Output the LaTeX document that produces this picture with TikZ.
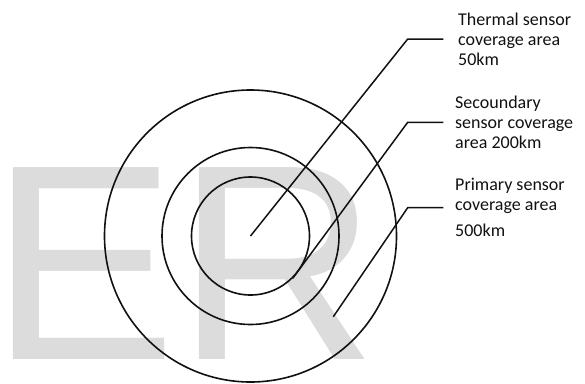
\documentclass[tikz,border=0pt]{standalone}
\usepackage{fontspec}
\setmainfont{Carlito}
\newfontfamily\markfont{Liberation Sans}
\usepackage{tikz}
\usetikzlibrary{positioning,calc}
\definecolor{ink}{HTML}{111111}
\definecolor{watermark}{HTML}{DCDCDC}

\begin{document}
\begin{tikzpicture}[
  x=1pt,y=-1pt,
  ring/.style={draw=ink,circle,line width=1.6pt,inner sep=0pt},
  leader/.style={draw=ink,line width=1.5pt},
  label/.style={anchor=base west,align=left,inner sep=0pt,font=\fontsize{18}{20}\selectfont,text=ink},
  wmark/.style={anchor=base west,inner sep=0pt,font=\markfont\fontsize{279}{279}\selectfont,text=watermark}
]
\useasboundingbox (0,0) rectangle (585,383);

% Watermark behind the rings
\node[wmark] (wm) at (-10,359) {ER};

% Coverage rings
\coordinate (c) at (250.5,236);
\node[ring,minimum size=292pt] (outer) at (c) {};
\node[ring,minimum size=177pt] (middle) at (c) {};
\node[ring,minimum size=118pt] (inner) at (c) {};

% Labels (base = last line)
\node[label] (thermal) at (458,65) {Thermal sensor\\coverage area\\50km};
\node[label] (second) at (455,148.5) {Secoundary\\sensor coverage\\area 200km};
\node[label] (primary) at (455,236.7) {Primary sensor\\coverage area\\[6.7pt]500km};

% Leader lines
\coordinate (k1) at (407.7,39);
\coordinate (e1) at (443.3,39);
\coordinate (k2) at (407.7,122.3);
\coordinate (e2) at (443.3,122.3);
\coordinate (p3) at (333.3,316.7);
\coordinate (k3) at (407.7,207.7);
\coordinate (e3) at (443.3,207.7);
\draw[leader] (c) -- (k1) -- (e1);
\draw[leader] (inner.-45) -- (k2) -- (e2);
\draw[leader] (p3) -- (k3) -- (e3);
\end{tikzpicture}
\end{document}
